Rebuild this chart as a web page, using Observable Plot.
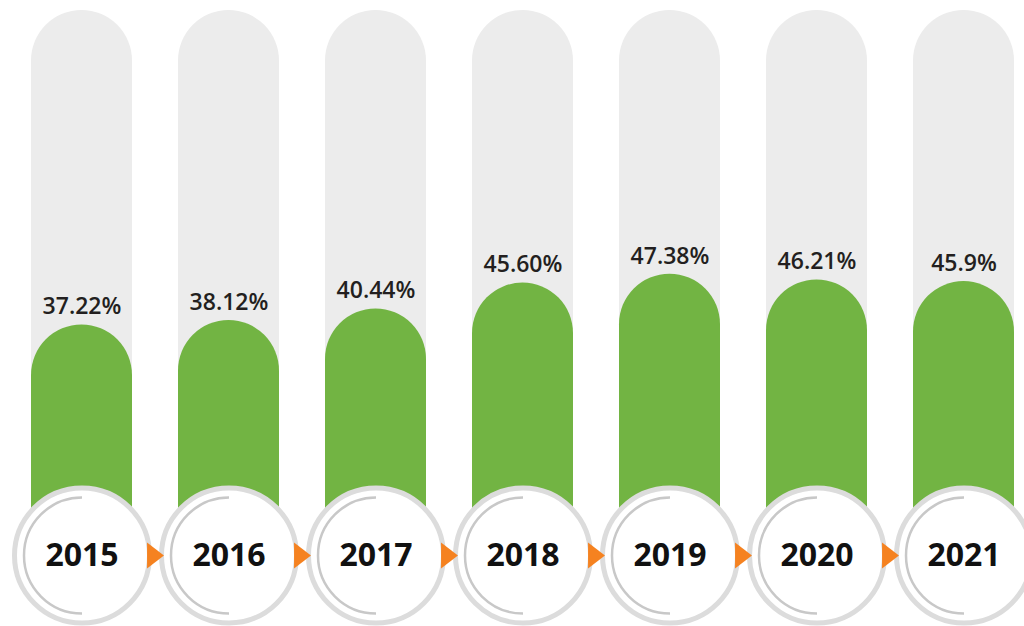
<!DOCTYPE html>
<html>
<head>
<meta charset="utf-8">
<script src="https://cdn.jsdelivr.net/npm/d3@7"></script>
<script src="https://cdn.jsdelivr.net/npm/@observablehq/plot@0.6"></script>
<style>
  html, body { margin: 0; padding: 0; background: #fff; }
  svg { display: block; }
</style>
</head>
<body>
<div id="chart"></div>
<script>
const years = ["2015", "2016", "2017", "2018", "2019", "2020", "2021"];
const values = [37.22, 38.12, 40.44, 45.60, 47.38, 46.21, 45.9];
const labels = ["37.22%", "38.12%", "40.44%", "45.60%", "47.38%", "46.21%", "45.9%"];
const trackMax = 100;
const hiddenBase = -20;

const data = years.map((y, i) => ({year: y, value: values[i], label: labels[i]}));
const arrows = years.slice(0, -1);

const leftArc = {
  draw(context, size) {
    const r = Math.sqrt(size / Math.PI);
    context.moveTo(0, -r);
    context.arc(0, 0, r, -Math.PI / 2, Math.PI / 2, true);
  }
};
const arrowHead = {
  draw(context, size) {
    const r = Math.sqrt(size / Math.PI);
    const w = r * 0.65;
    context.moveTo(-w, -r);
    context.lineTo(w, 0);
    context.lineTo(-w, r);
    context.closePath();
  }
};

const step = 147;
const chart = Plot.plot({
  width: 1024,
  height: 626,
  marginTop: 10,
  marginBottom: 115,
  marginLeft: 0,
  marginRight: 0,
  x: {type: "band", domain: years, range: [8, 8 + step * 7], paddingInner: 46 / step, paddingOuter: 23 / step, axis: null},
  y: {domain: [0, trackMax], axis: null},
  marks: [
    Plot.rectY(data, {x: "year", y1: hiddenBase, y2: trackMax, fill: "#ececec", rx: 50.5}),
    Plot.rectY(data, {x: "year", y1: hiddenBase, y2: "value", fill: "#72b443", rx: 50.5}),
    Plot.text(data, {x: "year", y: "value", text: "label", dy: -18, fontSize: 23, fontWeight: 600,
      fontFamily: "Open Sans", fill: "#231f20", style: "letter-spacing:0.8px"}),
    Plot.dot(data, {x: "year", frameAnchor: "bottom", dy: 44, r: 67.5, fill: "white", stroke: "#dcdcdc", strokeWidth: 5}),
    Plot.dot(data, {x: "year", frameAnchor: "bottom", dy: 44, r: 58, symbol: leftArc, fill: "none", stroke: "#c8c8c8", strokeWidth: 2.5}),
    Plot.text(data, {x: "year", frameAnchor: "bottom", lineAnchor: "middle", dy: 44, text: "year", fontSize: 32, fontWeight: 700,
      fontFamily: "Open Sans", fill: "#111111", style: "letter-spacing:0.5px"}),
    Plot.dot(arrows, {x: d => d, frameAnchor: "bottom", dy: 44, dx: step / 2, r: 13, symbol: arrowHead, fill: "#f58220", stroke: "none"})
  ]
});
document.getElementById("chart").appendChild(chart);
</script>
</body>
</html>
